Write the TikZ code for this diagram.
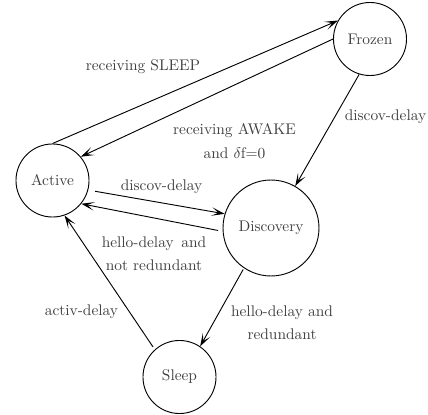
\documentclass[tikz,border=0pt]{standalone}
\usetikzlibrary{arrows.meta}
\begin{document}
\begin{tikzpicture}[x=0.649pt,y=-0.649pt,
  state/.style={circle,draw,line width=0.6pt,inner sep=0pt,minimum size=47.4pt,text=black!75},
  bigstate/.style={state,minimum size=62.3pt},
  lbl/.style={text=black!75,inner sep=0pt,align=center},
  trans/.style={line width=0.6pt,-{Stealth[length=8.5pt,width=5.5pt,inset=4.5pt]}}]
\useasboundingbox (0,0) rectangle (428,415);
\node[state] (frozen) at (370,39) {Frozen};
\node[state] (active) at (52.5,180.5) {Active};
\node[bigstate] (disc) at (271,228) {Discovery};
\node[state] (sleep) at (179.5,377) {Sleep};

\draw[trans] (active.90) -- (frozen.150);
\draw[trans] (frozen.180) -- (active.40);
\draw[trans] (frozen.-107) -- (disc.60);
\draw[trans,shorten <=4.5pt] (active.-15) -- (disc.163);
\draw[trans,shorten <=3pt] (disc.184) -- (active.-39);
\draw[trans,shorten <=1pt] (disc.-124) -- (sleep.56);
\draw[trans,shorten <=2pt] (sleep.132) -- (active.-71.5);

\node[lbl] (l1) at (143,67) {receiving SLEEP};
\node[lbl] (l2) at (234.5,141) {receiving AWAKE\\[4pt]and $\delta$f=0};
\node[lbl] (l3) at (385.5,117) {discov-delay};
\node[lbl] (l4) at (161.5,187) {discov-delay};
\node[lbl] (l5) at (154,253.5) {hello-delay\hspace{5pt}and\\[3pt]not redundant};
\node[lbl] (l6) at (282,322.5) {hello-delay and\\[3pt]redundant};
\node[lbl] (l7) at (81.5,312) {activ-delay};
\end{tikzpicture}
\end{document}
